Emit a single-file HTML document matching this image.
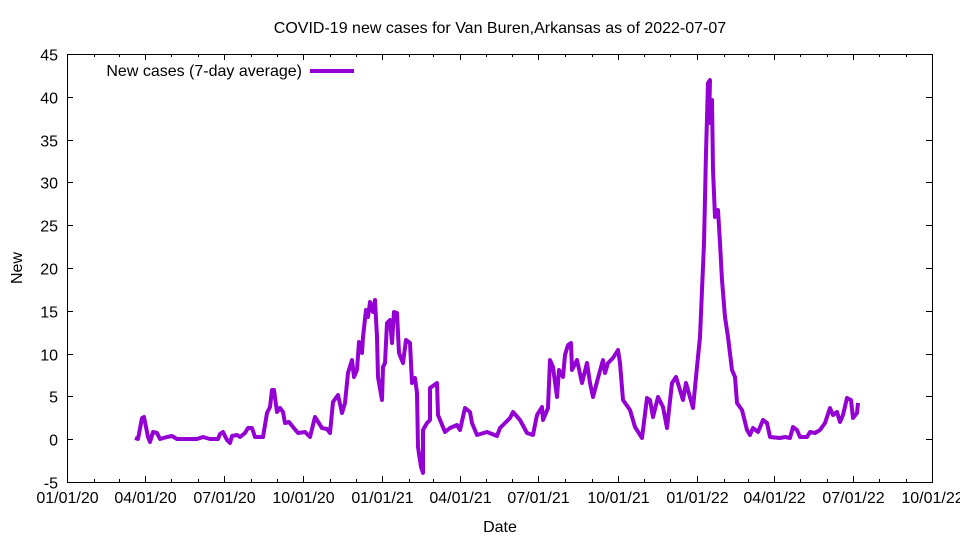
<!DOCTYPE html>
<html><head><meta charset="utf-8"><style>
body{margin:0;background:#fff}
svg{display:block}
text{font-family:"Liberation Sans",sans-serif;font-size:16px;fill:#000}
</style></head><body>
<svg id="s" width="960" height="540" viewBox="0 0 960 540">
<rect x="0" y="0" width="960" height="540" fill="#fff"/>
<text x="500" y="33" text-anchor="middle">COVID-19 new cases for Van Buren,Arkansas as of 2022-07-07</text>
<g id="ax" stroke="#000" stroke-width="1" fill="none"></g>
<g id="lb"></g>
<text x="22" y="268" text-anchor="middle" transform="rotate(-90 22 268)">New</text>
<text x="500" y="532" text-anchor="middle">Date</text>
<text x="302" y="76" text-anchor="end">New cases (7-day average)</text>
<line x1="310" y1="71" x2="354" y2="71" stroke="#9400d3" stroke-width="4"/>
<polyline fill="none" stroke="#9400d3" stroke-width="4" stroke-linejoin="round" points="
135,438 138,439 142,418 144,417 148,437 150,442 153,432 157,433 160,439 167,437 172,436 177,439 197,439 203,437 210,439 218,439 220,434 223,432 227,440 230,443 232,436 237,435 240,437 245,433 248,428 252,428 255,437 263,437 267,413 270,407 272,390 274,390 277,412 280,408 283,412 285,423 289,422 293,427 298,433 305,432 310,437 315,417 322,428 327,429 330,433
333,402 338,395 342,413 345,403 348,373 352,360 354,377 357,370 359,342 362,353 363,337 366,310 368,317 370,302 373,312 375,300 377,337 378,377 382,400 383,367 385,363 387,323 390,320 392,343 394,312 397,313 399,353 403,363 406,340 410,343 412,383 415,378 417,393 418,447 421,467 423,473 423,430 427,423 430,420
430,388 437,383 438,415 445,432 450,428 457,425 460,430 465,408 470,412 472,423 477,435 487,432 497,436 500,428 510,418 513,412 520,420 527,433 533,435 537,415 542,407 543,420 548,408 550,360 553,367 557,397 559,370 563,377 565,355 568,345 571,343 572,370 577,360 582,383 587,363 590,383 593,397 598,378 603,360 605,373 608,363 613,358 618,350 620,363 623,400 630,410 635,427 642,438 647,398 650,400 653,417 658,397 663,407 667,428 672,383 676,377 680,390 683,400 686,383 693,408 697,367 700,337
702,290 704,243 706,153 708,83 710,80 709,123 712,100 713,170 715,217 718,210 720,243 722,280 725,317 728,337 732,370 735,377 737,403 742,410 747,430 750,435 753,428 758,432 763,420 767,423 770,437 780,438 785,437 790,438 793,427 797,430 800,437 807,437 810,432 815,433 820,430 825,423 830,408 833,415 837,412 840,422 843,415 847,398 851,400 853,418 857,413 858,403"/>
</svg>
<script>
var ax=document.getElementById('ax'),lb=document.getElementById('lb'),NS='http://www.w3.org/2000/svg';
function el(p,t,a,tx){var e=document.createElementNS(NS,t);for(var k in a)e.setAttribute(k,a[k]);if(tx)e.textContent=tx;p.appendChild(e);}
el(ax,'rect',{x:67.5,y:54.5,width:865,height:428});
var L=67,R=932,T=54,B=482;
for(var v=-5;v<=45;v+=5){var y=B-(v+5)*428/50;y=Math.round(y)+0.5;
el(ax,'line',{x1:L,y1:y,x2:L+6,y2:y});el(ax,'line',{x1:R-6,y1:y,x2:R,y2:y});
el(lb,'text',{x:58,y:y+6,'text-anchor':'end'},String(v));}
var md=[31,29,31,30,31,30,31,31,30,31,30,31,31,28,31,30,31,30,31,31,30,31,30,31,31,28,31,30,31,30,31,31,30];
var d=0,px=865/1004;
for(var m=0;m<=33;m++){var x=Math.round(L+d*px)+0.5;var maj=(m%3==0);var len=maj?6:3;
el(ax,'line',{x1:x,y1:B,x2:x,y2:B-len});el(ax,'line',{x1:x,y1:T,x2:x,y2:T+len});
if(maj){var mm=((m%12)+1),yy=20+Math.floor(m/12);el(lb,'text',{x:x,y:503,'text-anchor':'middle'},(mm<10?'0':'')+mm+'/01/'+yy);}
if(m<33)d+=md[m];}
</script>
</body></html>
